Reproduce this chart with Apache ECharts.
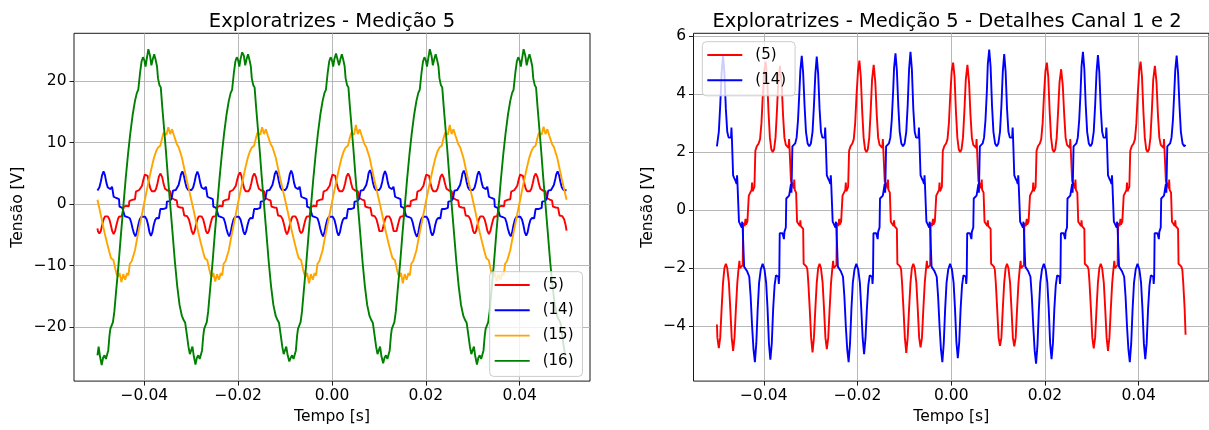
<!DOCTYPE html>
<html>
<head>
<meta charset="utf-8">
<script src="https://cdn.jsdelivr.net/npm/echarts@6/dist/echarts.min.js"></script>
<style>
html,body{margin:0;padding:0;background:#fff;}
#chart{width:1209px;height:430px;}
</style>
</head>
<body>
<div id="chart"></div>
<script>
// time in ms, voltage in V
const ch5 = [
[-50.0,-3.95],[-49.9,-4.4],[-49.6,-4.76],[-49.3,-4.4],[-49.0,-3.4],[-48.7,-2.5],[-48.4,-2.0],[-48.1,-1.85],[-47.8,-2.0],[-47.45,-2.5],[-47.15,-3.4],[-46.85,-4.4],[-46.55,-4.86],[-46.25,-4.4],[-45.95,-3.4],[-45.65,-2.5],[-45.4,-2.05],[-45.2,-1.75],[-45.1,-2.0],[-44.8,-1.95],[-44.5,-1.9],[-44.4,-0.45],[-44.1,-0.55],[-43.9,-0.3],[-43.8,-0.5],[-43.5,-0.4],[-43.3,-0.35],[-43.2,0.5],[-42.9,0.55],[-42.6,0.7],[-42.5,0.95],[-42.4,0.65],[-42.0,0.8],[-41.9,0.85],[-41.8,2.05],[-41.5,2.2],[-41.1,2.3],[-40.8,2.45],[-40.5,3.0],[-40.2,4.0],[-39.9,4.8],[-39.6,5.12],[-39.3,4.6],[-39.0,3.4],[-38.7,2.5],[-38.4,2.1],[-38.1,2.0],[-37.8,2.1],[-37.5,2.5],[-37.2,3.4],[-36.9,4.5],[-36.55,4.98],[-36.2,4.4],[-35.9,3.3],[-35.6,2.5],[-35.3,2.25],[-35.0,2.2],[-34.7,2.15],[-34.6,2.45],[-34.5,2.1],[-34.3,2.05],[-34.2,1.0],[-33.9,0.9],[-33.6,0.75],[-33.5,1.05],[-33.4,0.7],[-33.1,0.6],[-32.9,-0.4],[-32.6,-0.45],[-32.3,-0.55],[-32.2,-0.35],[-32.1,-0.55],[-31.8,-0.6],[-31.6,-0.65],[-31.5,-1.85],[-31.2,-1.9],[-30.9,-1.95],[-30.7,-2.05],[-30.5,-2.5],[-30.2,-3.4],
[-29.9,-4.4],[-29.6,-4.91],[-29.3,-4.4],[-29.0,-3.4],[-28.7,-2.5],[-28.4,-2.0],[-28.1,-1.85],[-27.8,-2.0],[-27.45,-2.5],[-27.15,-3.4],[-26.85,-4.4],[-26.55,-4.8],[-26.25,-4.4],[-25.95,-3.4],[-25.65,-2.5],[-25.4,-2.05],[-25.2,-1.75],[-25.1,-2.0],[-24.8,-1.95],[-24.5,-1.9],[-24.4,-0.45],[-24.1,-0.55],[-23.9,-0.3],[-23.8,-0.5],[-23.5,-0.4],[-23.3,-0.35],[-23.2,0.5],[-22.9,0.55],[-22.6,0.7],[-22.5,0.95],[-22.4,0.65],[-22.0,0.8],[-21.9,0.85],[-21.8,2.05],[-21.5,2.2],[-21.1,2.3],[-20.8,2.45],[-20.5,3.0],[-20.2,4.0],[-19.9,4.8],[-19.6,5.16],[-19.3,4.6],[-19.0,3.4],[-18.7,2.5],[-18.4,2.1],[-18.1,2.0],[-17.8,2.1],[-17.5,2.5],[-17.2,3.4],[-16.9,4.5],[-16.55,5.01],[-16.2,4.4],[-15.9,3.3],[-15.6,2.5],[-15.3,2.25],[-15.0,2.2],[-14.7,2.15],[-14.6,2.45],[-14.5,2.1],[-14.3,2.05],[-14.2,1.0],[-13.9,0.9],[-13.6,0.75],[-13.5,1.05],[-13.4,0.7],[-13.1,0.6],[-12.9,-0.4],[-12.6,-0.45],[-12.3,-0.55],[-12.2,-0.35],[-12.1,-0.55],[-11.8,-0.6],[-11.6,-0.65],[-11.5,-1.85],[-11.2,-1.9],[-10.9,-1.95],[-10.7,-2.05],[-10.5,-2.5],[-10.2,-3.4],
[-9.9,-4.4],[-9.6,-4.93],[-9.3,-4.4],[-9.0,-3.4],[-8.7,-2.5],[-8.4,-2.0],[-8.1,-1.85],[-7.8,-2.0],[-7.45,-2.5],[-7.15,-3.4],[-6.85,-4.4],[-6.55,-4.74],[-6.25,-4.4],[-5.95,-3.4],[-5.65,-2.5],[-5.4,-2.05],[-5.2,-1.75],[-5.1,-2.0],[-4.8,-1.95],[-4.5,-1.9],[-4.4,-0.45],[-4.1,-0.55],[-3.9,-0.3],[-3.8,-0.5],[-3.5,-0.4],[-3.3,-0.35],[-3.2,0.5],[-2.9,0.55],[-2.6,0.7],[-2.5,0.95],[-2.4,0.65],[-2.0,0.8],[-1.9,0.85],[-1.8,2.05],[-1.5,2.2],[-1.1,2.3],[-0.8,2.45],[-0.5,3.0],[-0.2,4.0],[0.1,4.8],[0.4,5.09],[0.7,4.6],[1.0,3.4],[1.3,2.5],[1.6,2.1],[1.9,2.0],[2.2,2.1],[2.5,2.5],[2.8,3.4],[3.1,4.5],[3.45,5.01],[3.8,4.4],[4.1,3.3],[4.4,2.5],[4.7,2.25],[5.0,2.2],[5.3,2.15],[5.4,2.45],[5.5,2.1],[5.7,2.05],[5.8,1.0],[6.1,0.9],[6.4,0.75],[6.5,1.05],[6.6,0.7],[6.9,0.6],[7.1,-0.4],[7.4,-0.45],[7.7,-0.55],[7.8,-0.35],[7.9,-0.55],[8.2,-0.6],[8.4,-0.65],[8.5,-1.85],[8.8,-1.9],[9.1,-1.95],[9.3,-2.05],[9.5,-2.5],[9.8,-3.4],
[10.1,-4.4],[10.4,-4.68],[10.7,-4.4],[11.0,-3.4],[11.3,-2.5],[11.6,-2.0],[11.9,-1.85],[12.2,-2.0],[12.55,-2.5],[12.85,-3.4],[13.15,-4.4],[13.45,-4.7],[13.75,-4.4],[14.05,-3.4],[14.35,-2.5],[14.6,-2.05],[14.8,-1.75],[14.9,-2.0],[15.2,-1.95],[15.5,-1.9],[15.6,-0.45],[15.9,-0.55],[16.1,-0.3],[16.2,-0.5],[16.5,-0.4],[16.7,-0.35],[16.8,0.5],[17.1,0.55],[17.4,0.7],[17.5,0.95],[17.6,0.65],[18.0,0.8],[18.1,0.85],[18.2,2.05],[18.5,2.2],[18.9,2.3],[19.2,2.45],[19.5,3.0],[19.8,4.0],[20.1,4.8],[20.4,5.09],[20.7,4.6],[21.0,3.4],[21.3,2.5],[21.6,2.1],[21.9,2.0],[22.2,2.1],[22.5,2.5],[22.8,3.4],[23.1,4.4],[23.45,4.86],[23.8,4.3],[24.1,3.3],[24.4,2.5],[24.7,2.25],[25.0,2.2],[25.3,2.15],[25.4,2.45],[25.5,2.1],[25.7,2.05],[25.8,1.0],[26.1,0.9],[26.4,0.75],[26.5,1.05],[26.6,0.7],[26.9,0.6],[27.1,-0.4],[27.4,-0.45],[27.7,-0.55],[27.8,-0.35],[27.9,-0.55],[28.2,-0.6],[28.4,-0.65],[28.5,-1.85],[28.8,-1.9],[29.1,-1.95],[29.3,-2.05],[29.5,-2.5],[29.8,-3.4],
[30.1,-4.4],[30.4,-4.77],[30.7,-4.4],[31.0,-3.4],[31.3,-2.5],[31.6,-2.0],[31.9,-1.85],[32.2,-2.0],[32.55,-2.5],[32.85,-3.4],[33.15,-4.4],[33.45,-4.86],[33.75,-4.4],[34.05,-3.4],[34.35,-2.5],[34.6,-2.05],[34.8,-1.75],[34.9,-2.0],[35.2,-1.95],[35.5,-1.9],[35.6,-0.45],[35.9,-0.55],[36.1,-0.3],[36.2,-0.5],[36.5,-0.4],[36.7,-0.35],[36.8,0.5],[37.1,0.55],[37.4,0.7],[37.5,0.95],[37.6,0.65],[38.0,0.8],[38.1,0.85],[38.2,2.05],[38.5,2.2],[38.9,2.3],[39.2,2.45],[39.5,3.0],[39.8,4.0],[40.1,4.8],[40.4,5.12],[40.7,4.6],[41.0,3.4],[41.3,2.5],[41.6,2.1],[41.9,2.0],[42.2,2.1],[42.5,2.5],[42.8,3.4],[43.1,4.5],[43.45,4.98],[43.8,4.4],[44.1,3.3],[44.4,2.5],[44.7,2.25],[45.0,2.2],[45.3,2.15],[45.4,2.45],[45.5,2.1],[45.7,2.05],[45.8,1.0],[46.1,0.9],[46.4,0.75],[46.5,1.05],[46.6,0.7],[46.9,0.6],[47.1,-0.4],[47.4,-0.45],[47.7,-0.55],[47.8,-0.35],[47.9,-0.55],[48.2,-0.6],[48.4,-0.65],[48.5,-1.85],[48.8,-1.9],[49.1,-1.95],[49.3,-2.05],[49.5,-2.5],[49.8,-3.4],[50.0,-4.3]
];
const ch14 = [
[-50.0,2.2],[-49.6,2.7],[-49.3,3.6],[-49.0,4.73],[-48.7,5.33],[-48.4,4.73],[-48.1,3.5],[-47.8,2.7],[-47.5,2.5],[-47.2,2.45],[-47.0,2.5],[-46.9,2.85],[-46.8,2.45],[-46.65,2.4],[-46.55,1.2],[-46.3,1.1],[-46.0,1.0],[-45.8,0.9],[-45.7,1.2],[-45.6,0.85],[-45.4,0.8],[-45.3,-0.4],[-45.0,-0.5],[-44.7,-0.6],[-44.6,-0.4],[-44.5,-0.65],[-44.3,-0.7],[-44.2,-1.95],[-43.9,-2.0],[-43.6,-2.1],[-43.3,-2.15],[-43.1,-2.3],[-42.8,-3.0],[-42.5,-4.0],[-42.2,-4.8],[-41.9,-5.25],[-41.6,-4.6],[-41.3,-3.4],[-41.0,-2.5],[-40.65,-2.05],[-40.25,-1.85],[-39.85,-2.05],[-39.5,-2.5],[-39.2,-3.4],[-38.9,-4.61],[-38.6,-5.16],[-38.3,-4.61],[-38.0,-3.4],[-37.7,-2.6],[-37.4,-2.25],[-37.1,-2.2],[-36.9,-2.3],[-36.8,-2.55],[-36.7,-2.3],[-36.6,-0.8],[-36.3,-0.75],[-36.0,-0.8],[-35.8,-0.75],[-35.7,-1.0],[-35.6,-0.75],[-35.3,-0.6],[-35.2,0.4],[-34.9,0.45],[-34.6,0.5],[-34.3,0.55],[-34.2,0.9],[-34.1,0.6],[-34.0,0.6],[-33.9,2.2],[-33.6,2.25],[-33.3,2.3],[-33.0,2.5],[-32.7,3.1],[-32.4,4.1],[-32.2,4.82],[-31.9,5.32],[-31.6,4.72],[-31.3,3.6],[-31.0,2.7],[-30.65,2.3],
[-30.3,2.2],[-29.95,2.3],[-29.6,2.7],[-29.3,3.6],[-29.0,4.7],[-28.7,5.3],[-28.4,4.7],[-28.1,3.5],[-27.8,2.7],[-27.5,2.5],[-27.2,2.45],[-27.0,2.5],[-26.9,2.85],[-26.8,2.45],[-26.65,2.4],[-26.55,1.2],[-26.3,1.1],[-26.0,1.0],[-25.8,0.9],[-25.7,1.2],[-25.6,0.85],[-25.4,0.8],[-25.3,-0.4],[-25.0,-0.5],[-24.7,-0.6],[-24.6,-0.4],[-24.5,-0.65],[-24.3,-0.7],[-24.2,-1.95],[-23.9,-2.0],[-23.6,-2.1],[-23.3,-2.15],[-23.1,-2.3],[-22.8,-3.0],[-22.5,-4.0],[-22.2,-4.8],[-21.9,-5.25],[-21.6,-4.6],[-21.3,-3.4],[-21.0,-2.5],[-20.65,-2.05],[-20.25,-1.85],[-19.85,-2.05],[-19.5,-2.5],[-19.2,-3.4],[-18.9,-4.42],[-18.6,-4.97],[-18.3,-4.42],[-18.0,-3.4],[-17.7,-2.6],[-17.4,-2.25],[-17.1,-2.2],[-16.9,-2.3],[-16.8,-2.55],[-16.7,-2.3],[-16.6,-0.8],[-16.3,-0.75],[-16.0,-0.8],[-15.8,-0.75],[-15.7,-1.0],[-15.6,-0.75],[-15.3,-0.6],[-15.2,0.4],[-14.9,0.45],[-14.6,0.5],[-14.3,0.55],[-14.2,0.9],[-14.1,0.6],[-14.0,0.6],[-13.9,2.2],[-13.6,2.25],[-13.3,2.3],[-13.0,2.5],[-12.7,3.1],[-12.4,4.1],[-12.2,4.91],[-11.9,5.41],[-11.6,4.81],[-11.3,3.6],[-11.0,2.7],[-10.65,2.3],
[-10.3,2.2],[-9.95,2.3],[-9.6,2.7],[-9.3,3.6],[-9.0,4.86],[-8.7,5.46],[-8.4,4.86],[-8.1,3.5],[-7.8,2.7],[-7.5,2.5],[-7.2,2.45],[-7.0,2.5],[-6.9,2.85],[-6.8,2.45],[-6.65,2.4],[-6.55,1.2],[-6.3,1.1],[-6.0,1.0],[-5.8,0.9],[-5.7,1.2],[-5.6,0.85],[-5.4,0.8],[-5.3,-0.4],[-5.0,-0.5],[-4.7,-0.6],[-4.6,-0.4],[-4.5,-0.65],[-4.3,-0.7],[-4.2,-1.95],[-3.9,-2.0],[-3.6,-2.1],[-3.3,-2.15],[-3.1,-2.3],[-2.8,-3.0],[-2.5,-4.0],[-2.2,-4.8],[-1.9,-5.25],[-1.6,-4.6],[-1.3,-3.4],[-1.0,-2.5],[-0.65,-2.05],[-0.25,-1.85],[0.15,-2.05],[0.5,-2.5],[0.8,-3.4],[1.1,-4.56],[1.4,-5.11],[1.7,-4.56],[2.0,-3.4],[2.3,-2.6],[2.6,-2.25],[2.9,-2.2],[3.1,-2.3],[3.2,-2.55],[3.3,-2.3],[3.4,-0.8],[3.7,-0.75],[4.0,-0.8],[4.2,-0.75],[4.3,-1.0],[4.4,-0.75],[4.7,-0.6],[4.8,0.4],[5.1,0.45],[5.4,0.5],[5.7,0.55],[5.8,0.9],[5.9,0.6],[6.0,0.6],[6.1,2.2],[6.4,2.25],[6.7,2.3],[7.0,2.5],[7.3,3.1],[7.6,4.1],[7.8,5.04],[8.1,5.54],[8.4,4.94],[8.7,3.6],[9.0,2.7],[9.35,2.3],
[9.7,2.2],[10.05,2.3],[10.4,2.7],[10.7,3.6],[11.0,4.78],[11.3,5.38],[11.6,4.78],[11.9,3.5],[12.2,2.7],[12.5,2.5],[12.8,2.45],[13.0,2.5],[13.1,2.85],[13.2,2.45],[13.35,2.4],[13.45,1.2],[13.7,1.1],[14.0,1.0],[14.2,0.9],[14.3,1.2],[14.4,0.85],[14.6,0.8],[14.7,-0.4],[15.0,-0.5],[15.3,-0.6],[15.4,-0.4],[15.5,-0.65],[15.7,-0.7],[15.8,-1.95],[16.1,-2.0],[16.4,-2.1],[16.7,-2.15],[16.9,-2.3],[17.2,-3.0],[17.5,-4.0],[17.8,-4.85],[18.1,-5.3],[18.4,-4.65],[18.7,-3.4],[19.0,-2.5],[19.35,-2.05],[19.75,-1.85],[20.15,-2.05],[20.5,-2.5],[20.8,-3.4],[21.1,-4.59],[21.4,-5.14],[21.7,-4.59],[22.0,-3.4],[22.3,-2.6],[22.6,-2.25],[22.9,-2.2],[23.1,-2.3],[23.2,-2.55],[23.3,-2.3],[23.4,-0.8],[23.7,-0.75],[24.0,-0.8],[24.2,-0.75],[24.3,-1.0],[24.4,-0.75],[24.7,-0.6],[24.8,0.4],[25.1,0.45],[25.4,0.5],[25.7,0.55],[25.8,0.9],[25.9,0.6],[26.0,0.6],[26.1,2.2],[26.4,2.25],[26.7,2.3],[27.0,2.5],[27.3,3.1],[27.6,4.1],[27.8,4.96],[28.1,5.46],[28.4,4.86],[28.7,3.6],[29.0,2.7],[29.35,2.3],
[29.7,2.2],[30.05,2.3],[30.4,2.7],[30.7,3.6],[31.0,4.75],[31.3,5.35],[31.6,4.75],[31.9,3.5],[32.2,2.7],[32.5,2.5],[32.8,2.45],[33.0,2.5],[33.1,2.85],[33.2,2.45],[33.35,2.4],[33.45,1.2],[33.7,1.1],[34.0,1.0],[34.2,0.9],[34.3,1.2],[34.4,0.85],[34.6,0.8],[34.7,-0.4],[35.0,-0.5],[35.3,-0.6],[35.4,-0.4],[35.5,-0.65],[35.7,-0.7],[35.8,-1.95],[36.1,-2.0],[36.4,-2.1],[36.7,-2.15],[36.9,-2.3],[37.2,-3.0],[37.5,-4.0],[37.8,-4.8],[38.1,-5.25],[38.4,-4.6],[38.7,-3.4],[39.0,-2.5],[39.35,-2.05],[39.75,-1.85],[40.15,-2.05],[40.5,-2.5],[40.8,-3.4],[41.1,-4.59],[41.4,-5.14],[41.7,-4.59],[42.0,-3.4],[42.3,-2.6],[42.6,-2.25],[42.9,-2.2],[43.1,-2.3],[43.2,-2.55],[43.3,-2.3],[43.4,-0.8],[43.7,-0.75],[44.0,-0.8],[44.2,-0.75],[44.3,-1.0],[44.4,-0.75],[44.7,-0.6],[44.8,0.4],[45.1,0.45],[45.4,0.5],[45.7,0.55],[45.8,0.9],[45.9,0.6],[46.0,0.6],[46.1,2.2],[46.4,2.25],[46.7,2.3],[47.0,2.5],[47.3,3.1],[47.6,4.1],[47.8,4.83],[48.1,5.33],[48.4,4.73],[48.7,3.6],[49.0,2.7],[49.35,2.3],[49.7,2.2],[50.0,2.25]
];
const ch15 = [
[-50.0,0.7],[-49.5,-1.0],[-49.0,-2.8],[-48.5,-4.6],[-48.0,-6.2],[-47.5,-7.7],[-47.1,-8.8],[-46.6,-9.1],[-46.2,-10.5],[-45.9,-11.4],[-45.6,-11.8],[-45.3,-11.2],[-44.9,-12.7],[-44.5,-11.4],[-44.1,-12.3],[-43.7,-11.2],[-43.4,-11.6],[-43.1,-9.7],[-42.7,-9.3],[-42.4,-9.2],[-42.0,-7.5],[-41.5,-5.4],[-41.0,-3.5],[-40.5,-1.6],[-40.0,0.3],[-39.5,2.2],[-39.0,4.0],[-38.5,5.8],[-38.0,7.4],[-37.5,8.6],[-37.1,9.2],[-36.6,9.5],[-36.2,10.8],[-35.9,11.6],[-35.6,11.9],[-35.3,11.3],[-34.9,12.5],[-34.5,11.4],[-34.1,12.2],[-33.7,11.2],[-33.4,11.5],[-33.1,9.8],[-32.7,9.3],[-32.4,9.1],[-32.0,7.6],[-31.5,5.8],[-31.0,4.0],[-30.5,2.4],
[-30.0,0.7],[-29.5,-1.0],[-29.0,-2.8],[-28.5,-4.6],[-28.0,-6.2],[-27.5,-7.7],[-27.1,-8.8],[-26.6,-9.1],[-26.2,-10.5],[-25.9,-11.4],[-25.6,-11.8],[-25.3,-11.2],[-24.9,-12.6],[-24.5,-11.4],[-24.1,-12.3],[-23.7,-11.2],[-23.4,-11.6],[-23.1,-9.7],[-22.7,-9.3],[-22.4,-9.2],[-22.0,-7.5],[-21.5,-5.4],[-21.0,-3.5],[-20.5,-1.6],[-20.0,0.3],[-19.5,2.2],[-19.0,4.0],[-18.5,5.8],[-18.0,7.4],[-17.5,8.6],[-17.1,9.2],[-16.6,9.5],[-16.2,10.8],[-15.9,11.6],[-15.6,11.9],[-15.3,11.3],[-14.9,12.5],[-14.5,11.4],[-14.1,12.2],[-13.7,11.2],[-13.4,11.5],[-13.1,9.8],[-12.7,9.3],[-12.4,9.1],[-12.0,7.6],[-11.5,5.8],[-11.0,4.0],[-10.5,2.4],
[-10.0,0.7],[-9.5,-1.0],[-9.0,-2.8],[-8.5,-4.6],[-8.0,-6.2],[-7.5,-7.7],[-7.1,-8.8],[-6.6,-9.1],[-6.2,-10.5],[-5.9,-11.4],[-5.6,-11.8],[-5.3,-11.2],[-4.9,-12.9],[-4.5,-11.4],[-4.1,-12.3],[-3.7,-11.2],[-3.4,-11.6],[-3.1,-9.7],[-2.7,-9.3],[-2.4,-9.2],[-2.0,-7.5],[-1.5,-5.4],[-1.0,-3.5],[-0.5,-1.6],[0.0,0.3],[0.5,2.2],[1.0,4.0],[1.5,5.8],[2.0,7.4],[2.5,8.6],[2.9,9.2],[3.4,9.5],[3.8,10.8],[4.1,11.6],[4.4,11.9],[4.7,11.3],[5.1,12.9],[5.5,11.4],[5.9,12.2],[6.3,11.2],[6.6,11.5],[6.9,9.8],[7.3,9.3],[7.6,9.1],[8.0,7.6],[8.5,5.8],[9.0,4.0],[9.5,2.4],
[10.0,0.7],[10.5,-1.0],[11.0,-2.8],[11.5,-4.6],[12.0,-6.2],[12.5,-7.7],[12.9,-8.8],[13.4,-9.1],[13.8,-10.5],[14.1,-11.4],[14.4,-11.8],[14.7,-11.2],[15.1,-12.9],[15.5,-11.4],[15.9,-12.3],[16.3,-11.2],[16.6,-11.6],[16.9,-9.7],[17.3,-9.3],[17.6,-9.2],[18.0,-7.5],[18.5,-5.4],[19.0,-3.5],[19.5,-1.6],[20.0,0.3],[20.5,2.2],[21.0,4.0],[21.5,5.8],[22.0,7.4],[22.5,8.6],[22.9,9.2],[23.4,9.5],[23.8,10.8],[24.1,11.6],[24.4,11.9],[24.7,11.3],[25.1,12.9],[25.5,11.4],[25.9,12.2],[26.3,11.2],[26.6,11.5],[26.9,9.8],[27.3,9.3],[27.6,9.1],[28.0,7.6],[28.5,5.8],[29.0,4.0],[29.5,2.4],
[30.0,0.7],[30.5,-1.0],[31.0,-2.8],[31.5,-4.6],[32.0,-6.2],[32.5,-7.7],[32.9,-8.8],[33.4,-9.1],[33.8,-10.5],[34.1,-11.4],[34.4,-11.8],[34.7,-11.2],[35.1,-12.5],[35.5,-11.4],[35.9,-12.3],[36.3,-11.2],[36.6,-11.6],[36.9,-9.7],[37.3,-9.3],[37.6,-9.2],[38.0,-7.5],[38.5,-5.4],[39.0,-3.5],[39.5,-1.6],[40.0,0.3],[40.5,2.2],[41.0,4.0],[41.5,5.8],[42.0,7.4],[42.5,8.6],[42.9,9.2],[43.4,9.5],[43.8,10.8],[44.1,11.6],[44.4,11.9],[44.7,11.3],[45.1,12.6],[45.5,11.4],[45.9,12.2],[46.3,11.2],[46.6,11.5],[46.9,9.8],[47.3,9.3],[47.6,9.1],[48.0,7.6],[48.5,5.8],[49.0,4.0],[49.5,2.4],[50.0,0.7]
];
const ch16 = [
[-50.0,-24.6],[-49.75,-23.2],[-49.45,-24.8],[-49.1,-26.2],[-48.8,-25.0],[-48.5,-24.6],[-48.2,-25.2],[-48.0,-25.4],[-47.7,-23.8],[-47.45,-21.5],[-47.25,-20.3],[-47.0,-20.0],[-46.7,-19.2],[-46.4,-17.5],[-46.0,-14.0],[-45.5,-9.8],[-45.0,-5.0],[-44.5,-0.5],[-44.0,4.0],[-43.5,8.0],[-43.0,11.5],[-42.5,14.5],[-42.0,16.8],[-41.6,18.1],[-41.3,18.6],[-41.1,18.9],[-40.9,21.5],[-40.6,23.2],[-40.3,23.9],[-40.0,23.4],[-39.75,22.4],[-39.5,23.6],[-39.15,25.2],[-38.8,24.2],[-38.5,22.6],[-38.2,23.6],[-37.9,24.4],[-37.6,23.5],[-37.3,22.4],[-37.1,20.5],[-36.8,19.4],[-36.5,19.0],[-36.2,16.0],[-35.8,12.3],[-35.4,8.6],[-35.0,4.6],[-34.5,0.0],[-34.0,-4.6],[-33.5,-9.3],[-33.0,-13.3],[-32.5,-16.4],[-32.0,-18.2],[-31.6,-18.9],[-31.3,-19.3],[-31.1,-19.6],[-30.9,-21.5],[-30.6,-23.2],[-30.3,-24.4],
[-30.0,-24.6],[-29.75,-23.2],[-29.45,-24.8],[-29.1,-26.1],[-28.8,-25.0],[-28.5,-24.6],[-28.2,-25.2],[-28.0,-25.4],[-27.7,-23.8],[-27.45,-21.5],[-27.25,-20.3],[-27.0,-20.0],[-26.7,-19.2],[-26.4,-17.5],[-26.0,-14.0],[-25.5,-9.8],[-25.0,-5.0],[-24.5,-0.5],[-24.0,4.0],[-23.5,8.0],[-23.0,11.5],[-22.5,14.5],[-22.0,16.8],[-21.6,18.1],[-21.3,18.6],[-21.1,18.9],[-20.9,21.5],[-20.6,23.2],[-20.3,23.9],[-20.0,23.4],[-19.75,22.4],[-19.5,23.6],[-19.15,24.7],[-18.8,24.2],[-18.5,22.6],[-18.2,23.6],[-17.9,24.4],[-17.6,23.5],[-17.3,22.4],[-17.1,20.5],[-16.8,19.4],[-16.5,19.0],[-16.2,16.0],[-15.8,12.3],[-15.4,8.6],[-15.0,4.6],[-14.5,0.0],[-14.0,-4.6],[-13.5,-9.3],[-13.0,-13.3],[-12.5,-16.4],[-12.0,-18.2],[-11.6,-18.9],[-11.3,-19.3],[-11.1,-19.6],[-10.9,-21.5],[-10.6,-23.2],[-10.3,-24.4],
[-10.0,-24.6],[-9.75,-23.2],[-9.45,-24.6],[-9.1,-25.6],[-8.8,-25.0],[-8.5,-24.6],[-8.2,-25.2],[-8.0,-25.4],[-7.7,-23.8],[-7.45,-21.5],[-7.25,-20.3],[-7.0,-20.0],[-6.7,-19.2],[-6.4,-17.5],[-6.0,-14.0],[-5.5,-9.8],[-5.0,-5.0],[-4.5,-0.5],[-4.0,4.0],[-3.5,8.0],[-3.0,11.5],[-2.5,14.5],[-2.0,16.8],[-1.6,18.1],[-1.3,18.6],[-1.1,18.9],[-0.9,21.5],[-0.6,23.2],[-0.3,23.9],[0.0,23.4],[0.25,22.4],[0.5,23.6],[0.85,24.5],[1.2,24.2],[1.5,22.6],[1.8,23.6],[2.1,24.4],[2.4,23.5],[2.7,22.4],[2.9,20.5],[3.2,19.4],[3.5,19.0],[3.8,16.0],[4.2,12.3],[4.6,8.6],[5.0,4.6],[5.5,0.0],[6.0,-4.6],[6.5,-9.3],[7.0,-13.3],[7.5,-16.4],[8.0,-18.2],[8.4,-18.9],[8.7,-19.3],[8.9,-19.6],[9.1,-21.5],[9.4,-23.2],[9.7,-24.4],
[10.0,-24.6],[10.25,-23.2],[10.55,-24.8],[10.9,-25.9],[11.2,-25.0],[11.5,-24.6],[11.8,-25.2],[12.0,-25.4],[12.3,-23.8],[12.55,-21.5],[12.75,-20.3],[13.0,-20.0],[13.3,-19.2],[13.6,-17.5],[14.0,-14.0],[14.5,-9.8],[15.0,-5.0],[15.5,-0.5],[16.0,4.0],[16.5,8.0],[17.0,11.5],[17.5,14.5],[18.0,16.8],[18.4,18.1],[18.7,18.6],[18.9,18.9],[19.1,21.5],[19.4,23.2],[19.7,23.9],[20.0,23.4],[20.25,22.4],[20.5,23.6],[20.85,25.2],[21.2,24.2],[21.5,22.6],[21.8,23.6],[22.1,24.4],[22.4,23.5],[22.7,22.4],[22.9,20.5],[23.2,19.4],[23.5,19.0],[23.8,16.0],[24.2,12.3],[24.6,8.6],[25.0,4.6],[25.5,0.0],[26.0,-4.6],[26.5,-9.3],[27.0,-13.3],[27.5,-16.4],[28.0,-18.2],[28.4,-18.9],[28.7,-19.3],[28.9,-19.6],[29.1,-21.5],[29.4,-23.2],[29.7,-24.4],
[30.0,-24.6],[30.25,-23.2],[30.55,-24.8],[30.9,-26.1],[31.2,-25.0],[31.5,-24.6],[31.8,-25.2],[32.0,-25.4],[32.3,-23.8],[32.55,-21.5],[32.75,-20.3],[33.0,-20.0],[33.3,-19.2],[33.6,-17.5],[34.0,-14.0],[34.5,-9.8],[35.0,-5.0],[35.5,-0.5],[36.0,4.0],[36.5,8.0],[37.0,11.5],[37.5,14.5],[38.0,16.8],[38.4,18.1],[38.7,18.6],[38.9,18.9],[39.1,21.5],[39.4,23.2],[39.7,23.9],[40.0,23.4],[40.25,22.4],[40.5,23.6],[40.85,25.2],[41.2,24.2],[41.5,22.6],[41.8,23.6],[42.1,24.4],[42.4,23.5],[42.7,22.4],[42.9,20.5],[43.2,19.4],[43.5,19.0],[43.8,16.0],[44.2,12.3],[44.6,8.6],[45.0,4.6],[45.5,0.0],[46.0,-4.6],[46.5,-9.3],[47.0,-13.3],[47.5,-16.4],[48.0,-18.2],[48.4,-18.9],[48.7,-19.3],[48.9,-19.6],[49.1,-21.5],[49.4,-23.2],[49.7,-24.4],[50.0,-24.6]
];

const seriesNames = ['(5)', '(14)', '(15)', '(16)'];
const seriesColors = ['#ff0000', '#0000ff', '#ffa500', '#008000'];
const xTicks = [-0.04, -0.02, 0, 0.02, 0.04];
const yTicksLeft = [-20, -10, 0, 10, 20];
const yTicksRight = [-4, -2, 0, 2, 4, 6];
const titles = ['Exploratrizes - Medição 5', 'Exploratrizes - Medição 5 - Detalhes Canal 1 e 2'];
const xName = 'Tempo [s]';
const yName = 'Tensão [V]';

const FONT = 'DejaVu Sans';
const toSec = arr => arr.map(p => [p[0] / 1000, p[1]]);
const minus = s => String(s).replace('-', '\u2212');

function xAxisCfg(gi) {
  return {
    type: 'value', gridIndex: gi, min: -0.055, max: 0.055,
    name: xName, nameLocation: 'middle', nameGap: 26,
    nameTextStyle: { fontFamily: FONT, fontSize: 15.5, color: '#000' },
    axisLine: { show: false, onZero: false },
    axisTick: { show: true, customValues: xTicks, length: 4.5, lineStyle: { color: '#000', width: 0.9 } },
    axisLabel: { customValues: xTicks, margin: 7, fontFamily: FONT, fontSize: 15.5, color: '#000',
      formatter: v => minus(v.toFixed(2)) },
    splitLine: { show: true, lineStyle: { color: '#b0b0b0', width: 0.9 } }
  };
}
function yAxisCfg(gi, min, max, ticks, gap) {
  return {
    type: 'value', gridIndex: gi, min: min, max: max,
    name: yName, nameLocation: 'middle', nameGap: gap,
    nameTextStyle: { fontFamily: FONT, fontSize: 15.5, color: '#000' },
    axisLine: { show: false, onZero: false },
    axisTick: { show: true, customValues: ticks, length: 4.5, lineStyle: { color: '#000', width: 0.9 } },
    axisLabel: { customValues: ticks, margin: 7.5, fontFamily: FONT, fontSize: 15.5, color: '#000',
      formatter: v => minus(v) },
    splitLine: { show: true, lineStyle: { color: '#b0b0b0', width: 0.9 } }
  };
}
function lineSeries(idx, data, gi) {
  return {
    type: 'line', name: seriesNames[idx], xAxisIndex: gi, yAxisIndex: gi,
    data: toSec(data), showSymbol: false, symbol: 'none', smooth: false,
    lineStyle: { color: seriesColors[idx], width: 1.9 },
    itemStyle: { color: seriesColors[idx] },
    emphasis: { disabled: true }, z: 2 + idx
  };
}
function legendCfg(names, left, top) {
  return {
    data: names, orient: 'vertical', left: left, top: top,
    icon: 'rect', itemWidth: 35, itemHeight: 1.9, itemGap: 10.3,
    padding: [5.8, 9, 8, 5],
    backgroundColor: 'rgba(255,255,255,0.8)', borderColor: '#cccccc', borderWidth: 1, borderRadius: 4,
    textStyle: { fontFamily: FONT, fontSize: 15, color: '#000', padding: [0, 0, 0, 8] },
    selectedMode: false, z: 10
  };
}

const chart = echarts.init(document.getElementById('chart'), null, { renderer: 'canvas' });
chart.setOption({
  animation: false,
  backgroundColor: '#ffffff',
  title: [
    { text: titles[0], left: 332, top: 12, textAlign: 'center', padding: 0,
      textStyle: { fontFamily: FONT, fontSize: 19.5, fontWeight: 'normal', color: '#000' } },
    { text: titles[1], left: 947, top: 12, textAlign: 'center', padding: 0,
      textStyle: { fontFamily: FONT, fontSize: 19.5, fontWeight: 'normal', color: '#000' } }
  ],
  grid: [
    { left: 74, top: 33.3, width: 516, height: 351.7, show: true, borderColor: '#000', borderWidth: 0.9, backgroundColor: 'transparent' },
    { left: 693.5, top: 33.3, width: 517.5, height: 351.7, show: true, borderColor: '#000', borderWidth: 0.9, backgroundColor: 'transparent' }
  ],
  xAxis: [xAxisCfg(0), xAxisCfg(1)],
  yAxis: [yAxisCfg(0, -28.8, 27.8, yTicksLeft, 48), yAxisCfg(1, -5.9, 6.1, yTicksRight, 38)],
  legend: [
    legendCfg(seriesNames, 489.7, 271.7),
    legendCfg(seriesNames.slice(0, 2), 702.3, 41.7)
  ],
  series: [
    lineSeries(0, ch5, 0), lineSeries(1, ch14, 0), lineSeries(2, ch15, 0), lineSeries(3, ch16, 0),
    lineSeries(0, ch5, 1), lineSeries(1, ch14, 1)
  ]
});
</script>
</body>
</html>
